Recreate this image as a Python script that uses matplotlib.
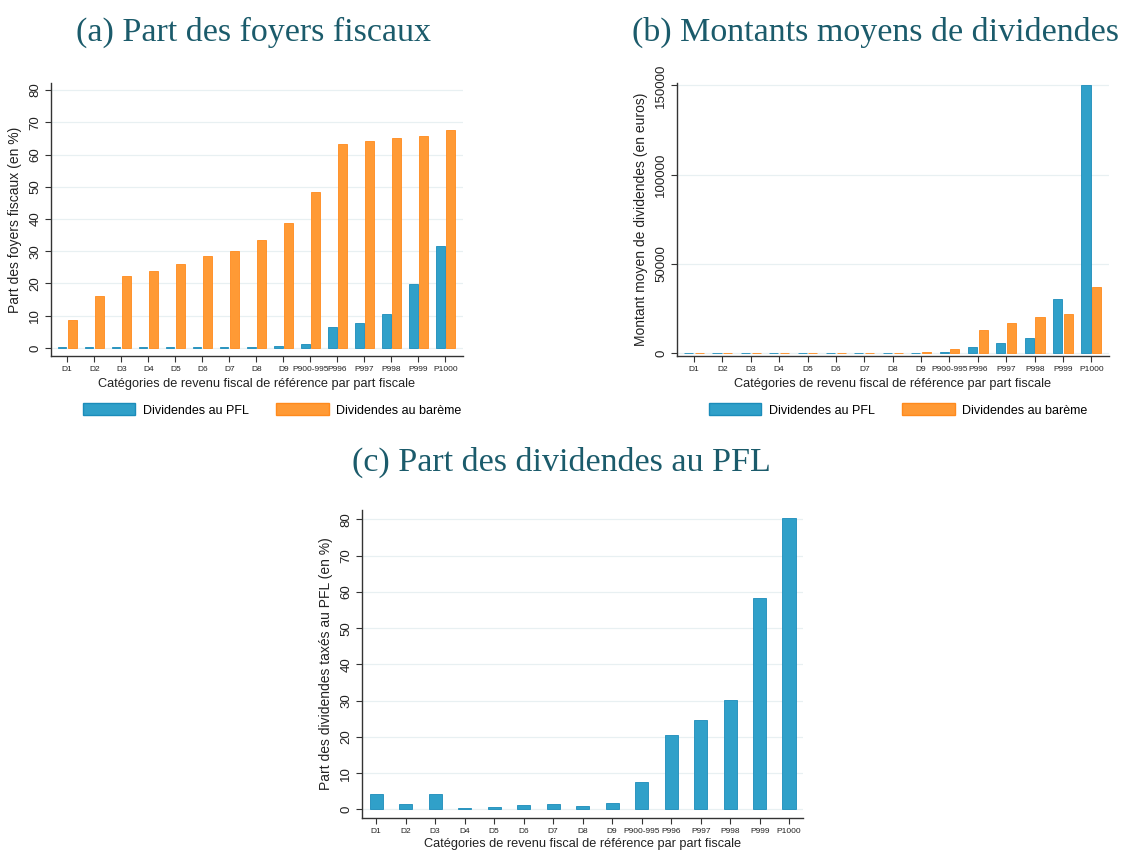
import matplotlib
matplotlib.use("Agg")
import matplotlib.pyplot as plt
from matplotlib.patches import Patch
import numpy as np

categories = ["D1", "D2", "D3", "D4", "D5", "D6", "D7", "D8", "D9",
              "P900-995", "P996", "P997", "P998", "P999", "P1000"]

# (a) Part des foyers fiscaux (%)
foyers_pfl = [0.4, 0.4, 0.4, 0.4, 0.4, 0.4, 0.4, 0.4, 0.7, 1.3, 6.5, 7.7, 10.6, 19.9, 31.7]
foyers_bareme = [8.6, 16.2, 22.4, 23.8, 26.1, 28.6, 30.1, 33.5, 38.7, 48.5, 63.4, 64.2, 65.0, 65.7, 67.7]

# (b) Montants moyens (euros)
montant_pfl = [100, 100, 100, 100, 100, 100, 100, 100, 150, 600, 3500, 5800, 8700, 30400, 150000]
montant_bareme = [300, 300, 300, 300, 300, 300, 300, 300, 600, 2300, 13200, 17200, 20100, 22100, 37200]

# (c) Part des dividendes au PFL (%)
part_pfl = [4.2, 1.4, 4.3, 0.3, 0.5, 1.1, 1.6, 0.8, 1.7, 7.4, 20.6, 24.7, 30.3, 58.4, 80.3]

BLUE = "#30a0c9"
BLUE_E = "#1b8cba"
ORANGE = "#ff9a35"
ORANGE_E = "#ff8a1c"
TITLE_C = "#1b5b6b"
GRID_C = "#e8f0f2"
SPINE_C = "#333333"

plt.rcParams["font.family"] = ["Liberation Sans", "DejaVu Sans"]

W, H = 1133, 850
fig = plt.figure(figsize=(W / 100, H / 100), dpi=100)
fig.patch.set_facecolor("white")


def px_axes(left, top, right, bottom):
    return fig.add_axes([left / W, 1 - bottom / H, (right - left) / W, (bottom - top) / H])


def style(ax, yticks, ylabel):
    for s in ["top", "right"]:
        ax.spines[s].set_visible(False)
    for s in ["left", "bottom"]:
        ax.spines[s].set_color(SPINE_C)
        ax.spines[s].set_linewidth(1.0)
    ax.set_yticks(yticks)
    ax.set_yticklabels([str(v) for v in yticks], rotation=90, va="center", fontsize=9.5, color="#222222")
    ax.set_xticks(range(len(categories)))
    ax.set_xticklabels(categories, fontsize=6, color="#222222")
    ax.tick_params(axis="both", direction="out", length=4, width=0.8, color=SPINE_C)
    ax.tick_params(axis="x", pad=3.5)
    ax.tick_params(axis="y", pad=3)
    for v in yticks:
        ax.axhline(v, color=GRID_C, lw=0.9, zorder=0)
    ax.set_ylabel(ylabel, fontsize=10, color="#222222", labelpad=5)
    ax.set_xlabel("Catégories de revenu fiscal de référence par part fiscale",
                  fontsize=9.2, color="#222222", labelpad=3)
    ax.set_axisbelow(True)


x = np.arange(len(categories))

# Panel (a)
ax1 = px_axes(51, 83, 463, 356)
ax1.bar(x - 0.19, foyers_pfl, width=0.32, color=BLUE, edgecolor=BLUE_E, linewidth=0.6, zorder=2)
ax1.bar(x + 0.19, foyers_bareme, width=0.32, color=ORANGE, edgecolor=ORANGE_E, linewidth=0.6, zorder=2)
ax1.set_xlim(-0.6, 14.65)
ax1.set_ylim(-2.5, 82.2)
style(ax1, [0, 10, 20, 30, 40, 50, 60, 70, 80], "Part des foyers fiscaux (en %)")

# Panel (b)
ax2 = px_axes(677, 83, 1109, 356)
ax2.bar(x - 0.19, montant_pfl, width=0.32, color=BLUE, edgecolor=BLUE_E, linewidth=0.6, zorder=2)
ax2.bar(x + 0.19, montant_bareme, width=0.32, color=ORANGE, edgecolor=ORANGE_E, linewidth=0.6, zorder=2)
ax2.set_xlim(-0.6, 14.62)
ax2.set_ylim(-1550, 151300)
style(ax2, [0, 50000, 100000, 150000], "Montant moyen de dividendes (en euros)")

# Panel (c)
ax3 = px_axes(362, 510, 803, 818)
ax3.bar(x, part_pfl, width=0.45, color=BLUE, edgecolor=BLUE_E, linewidth=0.6, zorder=2)
ax3.set_xlim(-0.48, 14.47)
ax3.set_ylim(-2.4, 82.6)
style(ax3, [0, 10, 20, 30, 40, 50, 60, 70, 80], "Part des dividendes taxés au PFL (en %)")
ax3.xaxis.labelpad = 1.5

# Legends
handles = [Patch(facecolor=BLUE, edgecolor=BLUE_E, label="Dividendes au PFL"),
           Patch(facecolor=ORANGE, edgecolor=ORANGE_E, label="Dividendes au barème")]
for cx in (272 / W, 898 / W):
    fig.legend(handles=handles, loc="center", bbox_to_anchor=(cx, 1 - 410 / H), ncol=2,
               frameon=False, fontsize=9, handlelength=4.2, handleheight=1.1,
               columnspacing=2.2, handletextpad=0.6)

# Titles
tkw = dict(fontsize=24.5, color=TITLE_C, ha="center", va="center",
           family=["Liberation Serif", "DejaVu Serif"])
fig.text(253 / W, 1 - 32 / H, "(a) Part des foyers fiscaux", **tkw)
fig.text(876 / W, 1 - 32 / H, "(b) Montants moyens de dividendes", **tkw)
fig.text(561 / W, 1 - 462 / H, "(c) Part des dividendes au PFL", **tkw)

fig.savefig("out.png", dpi=100, facecolor="white")
